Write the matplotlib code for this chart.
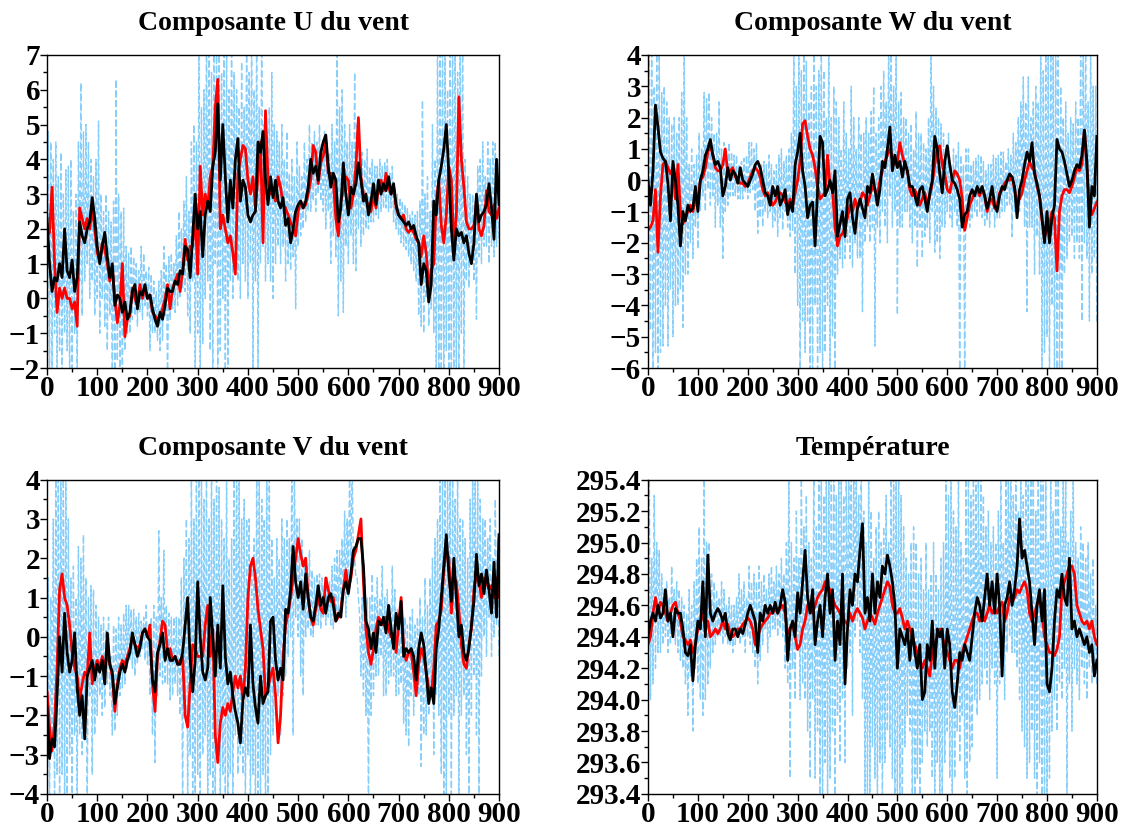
import numpy as np
import matplotlib
matplotlib.use("Agg")
import matplotlib.pyplot as plt
from matplotlib.ticker import MultipleLocator, FormatStrFormatter

# sample index (s): smoothed series read every 5 steps
t = np.arange(0, 901, 5)
# raw (noisy) series: low swings read at t, high swings read half-way between
t_mid = np.arange(2.5, 900, 5)

# --- Composante U du vent ---
u_raw_lo = [1.0, -2.5, -2.0, -1.0, -2.5, -1.5, -2.5, -1.0, -1.5, -2.5, -2.0, -1.0, -2.5,
            0.5, -0.5, 0.5, 1.0, 0.0, 0.5, -0.5, 0.0, -1.0, 0.0, -0.8, -1.5, -0.5, -2.5,
            -2.5, -1.8, -2.0, -2.5, -1.5, -1.0, -1.0,
            -0.6, -0.5, -0.8, -0.4, -0.6, -0.2, -0.5, -1.5, -1.0, -1.0, -1.2, -1.5, -1.2, -0.5, -2.5, -0.6,
            -0.3, -0.4, -0.2, 0.0, 0.3, 0.2, -0.5, -1.0,
            0.5, -2.5, -1.0, -2.5, -1.3, 0.0, 0.5, -1.5, -2.5, 1.0, -2.5, -1.5, 0.0, -2.5, -2.5, 0.5, 0.0,
            1.0, 0.5, 0.0, 1.0, 0.5, 0.0, 1.0, -2.5, 0.5, -2.5, 1.0, 1.5, 0.5, 1.0, 0.5, 0.0, 1.0,
            1.5, 1.0, 1.5, 0.5, 1.0, 0.8, 1.2, -0.3, 1.5, 1.8, 2.0, 2.2, 2.5, 2.5, 2.8, 2.5, 3.0, 2.8, 2.5, 2.0,
            2.5, 1.0, 1.8, 1.2,
            -0.5, 0.5, -0.4, 1.5, 1.0, 1.8, 1.0, 0.8, 2.0, 1.5, 1.8, 2.0,
            2.0, 2.2, 2.2, 2.4, 2.3, 2.5, 2.6, 2.6, 2.5, 2.6, 2.2, 2.0, 1.8, 1.6, 1.5, 1.4, 1.2, 1.0, 0.8, 0.5,
            -0.5, -0.8, -1.0, 0.0, -0.8, -0.3, -1.0, -2.5,
            -2.5, -2.5, -2.5, -1.5, -2.5, -2.5, -2.0, -2.5, -2.5, -1.0, -2.5,
            0.5, 0.3, 1.0, 0.5, -0.6, 1.2, 1.0, 1.5, 1.5, 1.0, 1.5, 1.2, 1.5, 1.7]
u_raw_hi = [4.8, 4.5, 4.0, 4.5, 3.5, 4.2, 3.0, 3.7, 3.8, 4.0, 2.5, 3.0, 4.5,
            6.2, 4.8, 5.0, 4.5, 4.0, 3.5, 4.0, 5.1, 3.0, 2.5, 3.0, 2.5, 2.2, 2.8,
            6.3, 3.0, 2.5, 2.6, 1.5, 1.3, 1.5,
            1.2, 1.0, 0.8, 1.5, 1.3, 0.8, 0.9, 0.7, 0.5, 0.2, 0.5, 0.8, 1.5, 1.0, 1.2, 1.3, 1.0, 1.8, 2.5, 2.0,
            2.8, 3.5, 2.5, 4.5,
            5.0, 4.5, 8.0, 5.5, 6.0, 8.0, 8.0, 6.5, 8.0, 7.0, 8.0, 6.5, 8.0, 7.5, 6.0, 8.0, 6.5, 6.0, 5.5, 6.8,
            5.5, 8.0, 6.5, 8.0, 6.0, 8.0, 5.5, 8.0, 5.0, 4.8, 5.5, 6.5, 5.0, 4.8,
            4.5, 5.0, 4.0, 4.8, 3.6, 4.0, 3.5, 4.5, 3.8, 3.5, 4.5, 4.0, 5.0, 4.5, 4.8, 4.5, 5.0, 4.4, 4.8, 4.5,
            4.2, 5.0, 4.5, 8.0,
            5.5, 6.0, 5.0, 4.5, 5.0, 4.5, 6.5, 5.0, 4.5, 4.2, 4.0, 4.3,
            3.8, 4.0, 3.8, 3.8, 4.0, 3.8, 3.9, 4.0, 3.6, 3.8, 3.2, 3.0, 2.9, 2.8, 2.7, 2.6, 2.4, 2.5, 2.4, 2.5,
            2.8, 5.7, 3.0, 3.5, 2.5, 5.0, 4.0, 8.0,
            8.0, 8.0, 8.0, 6.0, 8.0, 8.0, 8.0, 6.5, 8.0, 8.0, 4.0,
            3.5, 3.0, 3.0, 2.8, 3.8, 4.0, 4.5, 3.5, 4.5, 4.0, 4.5, 4.5, 4.0]
u_red = [1.8, 1.9, 3.2, 1.0, -0.4, 0.3, 0.0, 0.3, 0.0, 0.0, -0.3, -0.1, -0.8, 2.6, 2.3, 2.0, 2.3, 2.0, 2.6, 2.0,
         1.3, 1.1, 1.6, 1.4, 1.0, 0.5, 0.9, 0.0, -0.7, -0.2, 1.0, -1.1, -0.6, -0.5, 0.3, 0.0, -0.2, 0.4, 0.0, 0.3,
         0.0, 0.1, -0.4, -0.5, -0.6, -0.5, -0.3, 0.0, 0.4, -0.3, 0.3, 0.5, 0.7, 0.2, 0.8, 1.7, 1.1, 1.5, 1.5, 2.5,
         0.7, 3.8, 2.4, 3.0, 2.6, 3.5, 3.8, 5.5, 6.3, 2.0, 2.4, 2.0, 1.6, 1.8, 1.3, 0.7, 3.6, 4.0, 4.4, 4.3,
         3.4, 3.0, 3.5, 2.6, 3.5, 4.5, 1.6, 5.4, 3.4, 3.0, 3.1, 2.8, 3.5, 3.2, 2.7, 2.6, 2.4, 2.2, 2.0, 1.8,
         2.5, 2.8, 2.6, 2.7, 3.0, 3.4, 4.4, 4.2, 3.3, 3.9, 4.1, 4.5, 3.6, 3.6, 3.4, 2.3, 1.8, 2.8, 3.1, 3.5,
         3.4, 2.6, 3.0, 3.8, 5.2, 3.5, 3.0, 2.8, 2.7, 2.5, 3.0, 2.6, 3.2, 3.4, 3.1, 3.6, 3.2, 3.0, 3.2, 2.6,
         2.4, 2.3, 2.4, 2.0, 1.9, 2.0, 1.9, 1.7, 1.6, 1.2, 1.8, 1.3, 0.3, 0.8, 1.0, 2.8, 3.4, 2.1, 1.6, 2.4,
         3.8, 3.4, 1.5, 2.4, 5.8, 4.0, 3.2, 2.2, 2.0, 2.0, 2.1, 2.8, 2.0, 1.8, 2.1, 3.1, 2.5, 2.4, 2.7, 2.3, 2.6]
u_black = [2.3, 1.0, 0.2, 0.6, 0.5, 1.0, 0.6, 2.0, 0.8, 0.6, 1.1, 0.2, 0.6, 2.2, 1.8, 1.6, 2.0, 2.2, 2.9, 2.3,
           1.5, 1.0, 1.5, 1.9, 1.2, 0.6, 1.0, -0.2, 0.1, 0.0, -0.4, -0.1, -0.6, -0.4, 0.2, 0.4, -0.3, 0.2, 0.1, 0.4,
           0.0, 0.1, -0.3, -0.6, -0.8, -0.4, -0.6, -0.2, 0.3, 0.2, 0.2, 0.5, 0.4, 0.8, 0.7, 1.5, 1.4, 0.6, 1.8, 3.0,
           2.0, 2.5, 1.2, 2.4, 2.8, 2.5, 3.8, 4.2, 5.6, 3.4, 5.0, 3.5, 2.2, 3.4, 2.6, 4.0, 4.6, 2.8, 3.4, 3.2,
           2.4, 2.2, 2.4, 2.5, 4.5, 4.2, 4.8, 3.4, 2.7, 3.5, 2.9, 3.4, 2.8, 2.6, 2.9, 2.1, 2.3, 1.6, 2.0, 2.5,
           2.7, 2.8, 2.6, 2.8, 3.2, 4.0, 3.6, 3.8, 3.4, 4.2, 4.5, 4.7, 3.8, 3.2, 3.6, 3.4, 2.2, 2.6, 3.9, 3.0,
           2.4, 3.2, 3.0, 3.3, 3.9, 3.4, 2.8, 3.0, 2.4, 2.8, 3.3, 2.7, 3.4, 3.0, 3.3, 3.1, 3.5, 3.0, 3.3, 2.7,
           2.4, 2.3, 2.2, 2.1, 2.2, 2.0, 2.1, 1.8, 1.6, 0.4, 1.0, 0.8, -0.1, 0.4, 2.8, 2.4, 3.4, 3.8, 4.3, 5.0,
           3.6, 2.0, 1.1, 2.0, 1.8, 1.9, 1.6, 1.8, 1.3, 1.0, 1.6, 3.0, 2.2, 2.4, 2.5, 2.7, 3.3, 2.6, 1.7, 4.0, 2.7]

# --- Composante W du vent ---
w_raw_lo = [-2.0, -4.8, -6.5, -5.5, -6.5, -5.5, -5.3, -4.0, -5.3, -3.5, -5.0, -4.0, -4.0, -3.5, -4.7, -3.0, -3.0,
            -2.0, -2.5, -1.5, -2.2,
            -1.0, -0.5, -1.0, -0.3, -0.8, -0.5, -1.5, -0.8, -1.5, -2.5, -1.0, -0.8,
            -0.5, -0.5, -0.5, -0.6, -0.6, -0.6, -0.4, -0.6, -0.4, -0.3, -1.0, -1.7, -1.2, -1.5, -1.0, -1.2, -1.0,
            -1.5, -1.3, -1.8, -1.2, -1.6, -1.0, -1.5, -1.8, -1.6,
            -3.0, -4.0, -6.5, -4.5, -5.5, -4.5, -6.5, -6.5, -4.0, -6.5, -5.5, -6.5, -5.5, -4.0, -6.5, -5.0, -6.5,
            -3.0, -2.5, -2.8,
            -2.5, -2.0, -2.5, -2.8, -2.0, -2.5, -2.5, -4.2, -2.0, -1.5, -2.0, -1.5, -5.3, -1.5, -2.0, -1.0,
            -1.5, -2.0, -0.5, -1.5, -1.0, -4.3, -1.5, -1.5, -1.0, -1.0,
            -1.5, -2.0, -1.5, -2.8, -1.5, -2.5, -1.8, -1.5, -2.0, -1.0, -2.3, -2.0, -2.5, -1.5, -1.5, -1.0, -1.2,
            -1.5, -1.0, -1.5, -6.5, -1.5, -6.5, -1.0,
            -1.5, -1.2, -1.0, -1.2, -1.0, -1.2, -1.5, -1.3, -1.5, -1.0, -1.5, -1.2, -1.2, -1.0, -1.0, -0.8, -0.8,
            -1.8, -1.0, -0.8, -1.0, -0.5, -1.5,
            -4.2, -1.5, -1.5, -3.0, -1.8, -3.0, -6.5,
            -5.5, -5.0, -6.5, -4.0, -6.5, -6.5, -6.5, -6.5, -3.0,
            -2.5, -2.0, -1.8, -2.5, -2.0, -2.5, -4.5, -2.0, -2.5, -4.5, -3.0, -2.5, -4.6]
w_raw_hi = [4.5, 4.5, 3.0, 4.5, 4.5, 2.8, 3.0, 2.5, 2.0, 1.8, 2.0, 1.5, 2.0, 2.8, 4.5, 2.0,
            0.5, 1.0, 0.5, 0.8,
            1.5, 1.0, 2.8, 2.6, 2.8, 2.0, 1.5, 1.5, 2.5, 1.0, 1.2, 0.8, 1.2,
            0.9, 0.8, 0.8, 0.5, 0.6, 0.7, 0.8, 1.2, 1.2, 1.0, 1.2, 0.5, 0.5, 0.6, 0.5, 0.8, 0.5, 0.3, 0.5, 0.8,
            1.0, 0.6, 0.8, 1.0, 1.5, 4.5,
            3.0, 4.5, 3.5, 4.5, 3.8, 2.5, 3.0, 4.5, 3.0, 3.5, 4.5, 3.5, 2.0, 4.5, 2.0, 3.0, 2.5, 2.0, 1.0,
            2.5, 1.5, 1.0, 3.0, 2.0, 1.0, 2.0, 1.5, 1.5, 2.0, 1.5, 2.2, 3.0, 1.5, 2.0, 3.0,
            3.5, 2.5, 4.5, 4.5, 3.0, 4.0, 2.5, 2.8, 2.0, 2.0,
            1.5, 1.8, 1.0, 2.2, 1.5, 1.5, 1.2, 1.0, 2.0, 4.5, 3.0, 2.3, 2.0, 1.8, 1.5, 1.0, 1.5, 0.5, 1.0, 0.8,
            1.2, 0.8, 0.5, 1.0,
            1.0, 0.5, 0.6, 0.7, 0.8, 0.8, 0.6, 0.3, 0.5, 0.5, 0.8, 0.7, 0.8, 0.9, 0.9, 0.6, 1.0, 0.8, 1.5, 1.2,
            2.0, 2.5, 3.3,
            2.5, 3.3, 2.0, 2.5, 3.0, 2.5, 4.5,
            3.5, 4.5, 4.5, 4.5, 4.5, 4.5, 4.5, 3.0, 2.0,
            2.5, 1.5, 2.0, 1.8, 2.5, 2.0, 4.5, 4.0, 4.5, 2.5, 4.5, 3.0, 3.0]
w_red = [-1.6, -1.5, -1.3, -0.3, -2.3, -0.5, 0.5, 0.6, 0.4, 0.2, 0.4, -0.6, 0.5, -1.0, -1.4, -1.2, -1.0, -0.8, -1.0, -0.6,
         -0.6, 0.0, 0.1, 0.4, 0.9, 1.1, 0.8, 0.4, 0.3, 0.3, 0.5, 1.0, 0.2, 0.3, 0.4, 0.1, 0.0, -0.1, -0.1, -0.2,
         -0.1, 0.1, 0.3, 0.4, 0.3, 0.1, -0.3, -0.5, -0.4, -0.6, -0.8, -0.7, -0.5, -0.4, -0.5, -0.7, -0.8, -0.6, -0.8, -0.4,
         0.0, 0.6, 1.8, 1.9, 1.4, 1.0, 0.8, 0.4, -0.2, -0.6, -0.5, -0.4, 0.8, -0.2, -0.3, -1.5, -2.1, -1.8, -1.7, -1.5,
         -1.2, -0.8, -1.0, -0.6, -0.9, -0.7, -0.4, -0.5, -0.8, -0.5, -0.2, -0.3, -0.5, 0.0, 0.3, 0.6, 0.8, 1.0, 0.7, 0.5,
         0.6, 1.2, 0.8, 0.5, 0.3, -0.3, -0.5, -0.3, -0.5, -0.8, -0.6, -0.4, -0.8, -0.5, -0.1, 0.5, 1.0, 1.1, 0.5, 0.2,
         -0.3, -0.4, 0.0, 0.3, 0.2, 0.0, -0.6, -1.6, -1.2, -0.8, -0.6, -0.4, -0.3, -0.5, -0.3, -0.5, -1.0, -0.7, -0.6, -0.9,
         -0.8, -0.4, -0.3, -0.1, 0.0, 0.0, 0.1, -0.3, -0.7, -0.6, -0.4, 0.0, 0.3, 0.6, 0.4, 0.3, -0.2, -0.5, -1.3, -1.8,
         -1.6, -1.4, -1.0, -1.2, -2.9, -1.0, -0.5, -0.3, -0.3, -0.4, -0.2, 0.1, 0.4, 0.3, 0.5, 1.6, 0.4, -0.8, -1.1, -0.9, -0.7]
w_black = [0.0, -0.8, 0.3, 2.4, 1.7, 0.9, 0.7, 0.6, -0.1, -1.3, 0.6, 0.0, -0.8, -2.1, -1.0, -1.3, -0.8, -1.0, -0.9, -0.2,
           -1.0, 0.0, 0.3, 0.8, 1.0, 1.3, 0.8, 0.5, 0.6, 0.4, -0.5, -0.2, 0.4, 0.0, 0.3, 0.2, -0.1, 0.4, 0.0, -0.1,
           -0.2, 0.0, 0.2, 0.5, 0.6, 0.4, 0.0, -0.4, -0.5, -0.8, -0.2, -0.5, -0.2, -0.8, -0.6, -0.3, -1.1, -0.7, -1.0, 0.5,
           0.9, 1.5, 0.3, -0.2, -1.2, -0.8, -0.7, -2.1, -0.3, 1.4, 1.2, -0.5, -0.3, 0.0, -0.4, 0.3, -1.8, -1.4, -1.0, -1.8,
           -0.6, -0.4, -1.2, -1.7, -0.9, -0.6, -0.9, -1.2, -0.2, -0.4, 0.2, -0.3, -0.8, -0.3, 0.6, 0.4, 1.0, 1.7, 0.3, 0.8,
           0.4, 0.6, 0.1, 0.6, 0.3, -0.2, -0.2, -0.5, -0.8, -0.3, -0.2, -0.6, -1.0, -0.4, 0.0, 1.4, 1.0, 0.2, -0.4, 0.6,
           1.1, 0.5, 0.0, -0.1, -0.3, -0.6, -1.5, -1.1, -1.0, -0.5, -0.3, -0.5, -0.2, -0.4, -0.2, -0.5, -0.9, -0.6, -0.2, -0.8,
           -1.0, -0.5, -0.2, -0.3, 0.0, 0.2, 0.1, -0.2, -1.2, -0.3, 0.0, 0.5, 0.9, 0.6, 1.2, 0.2, -0.1, -0.5, -1.2, -2.0,
           -1.0, -2.0, -1.2, -0.8, 1.3, 1.0, 0.9, 0.6, 0.2, -0.2, 0.0, 0.3, 0.5, 0.4, 0.8, 1.6, 0.6, -1.5, -0.2, -0.5, 1.4]

# --- Composante V du vent ---
v_raw_lo = [-4.5, -4.5, -3.0, -4.5, -3.5, -4.5, -3.5, -4.5, -4.5, -3.0, -4.5,
            -2.5, -4.5, -2.5, -3.0, -2.5, -4.5,
            -1.5, -3.5, -2.5, -2.0, -1.5, -2.0, -1.8, -1.2, -1.5, -2.5,
            -2.4, -2.0, -1.5, -1.3, -1.2, -0.8, -0.6, -0.8, -1.0, -0.7, -0.5, -0.3, -0.6, -0.7, -1.5, -2.5,
            -3.2, -1.5, -1.0, -1.2, -1.2, -1.2, -1.6, -1.5, -1.2, -1.5, -2.0, -4.5,
            -2.0, -4.5, -3.0, -4.5, -4.0, -3.5, -4.5, -3.0, -2.5, -4.5, -3.5, -4.0, -4.5, -3.0, -4.5, -3.5, -4.5,
            -4.5, -3.5, -4.5, -2.5, -3.5, -3.0, -3.5, -4.5, -3.0, -4.5, -3.5, -4.5, -4.0, -4.5, -3.5, -4.5, -4.5,
            -3.0, -2.5, -2.0, -1.5, -2.5, -1.5,
            -1.0, -0.5, 0.0, -2.5, 0.5, 0.0, -1.0, -1.5, 0.0, 0.2, 0.0, 0.0, 0.3, 0.3, 0.2, 0.5, 0.3, 0.5, 0.3,
            0.2, 0.5, 0.6, 0.8, 1.0, 0.5, 1.0, 1.5, 1.8, 1.5, 1.0, -1.0, -1.5, -2.0,
            -4.5, -2.0, -1.5, -1.0, -1.0, -0.5, -1.5, -1.5, -1.2, -1.0, -1.0, -1.5, -1.5, -1.2, -2.2, -2.5, -2.8,
            -1.5, -2.0, -1.5, -1.5, -3.3, -2.5, -2.5, -2.0, -1.5, -3.0, -1.5, -2.0,
            -3.5, -4.5, -4.5, -2.0, -4.5, -2.0, -1.5, -4.5, -2.0, -1.5, -3.0, -4.5, -2.0, -1.0, -2.5, -4.5, -1.0,
            0.0, -0.5, 0.5, -0.5, 0.0, 0.3, -0.5]
v_raw_hi = [1.5, 1.0, 3.0, 4.5, 4.5, 4.5, 4.5, 4.5, 3.0, 1.5,
            1.8, 1.0, 2.3, 2.0, 2.6, 1.5,
            1.0, 1.3, 1.2, 0.8, 0.5, 0.3, 0.5, 0.2, 0.5, -0.5, 0.3,
            0.2, 0.5, 0.3, 0.6, 0.8, 0.8, 0.7, 0.7, 0.5, 0.6, 0.4, 0.5, 0.8, 0.3, 0.5, 0.8,
            0.5, 2.7, 1.0, 2.2, 0.8, 0.6, 0.5, 0.5, 0.5, 0.5, 1.5, 2.0,
            3.0, 2.5, 4.5, 3.0, 4.5, 4.5, 4.5, 3.5, 4.5, 3.0, 4.5, 3.5, 4.5, 3.8, 3.0, 2.5, 4.5, 2.0, 2.5, 4.5,
            4.5, 4.5, 3.0, 3.5, 3.0, 3.0, 2.0, 2.5, 4.5, 4.5, 3.5, 3.0, 4.5, 4.5, 2.5, 1.5, 2.5, 2.0, 3.0, 2.5,
            3.0, 2.5, 4.5, 4.5, 3.0, 3.0, 2.5, 2.0, 1.8, 2.2, 1.7, 1.5, 1.6, 1.6, 1.5, 1.3, 1.5, 1.4, 1.8, 2.0,
            2.2, 2.2, 2.5, 3.2, 3.0, 4.5, 4.5, 2.0, 1.5, 0.5, 1.0, 1.5, 1.0,
            1.0, 1.6, 1.0, 1.5, 1.0, 1.8, 1.0, 1.2, 0.8, 1.8, 1.2, 0.7, 0.5, 0.8, 0.5, 0.3, 0.5, 0.7, 0.3, 0.5,
            1.0, 0.5, 1.5, 0.8, 1.5, 2.0, 2.5, 3.0, 4.0,
            4.5, 4.5, 4.5, 4.5, 4.5, 3.5, 4.5, 3.0, 3.0, 2.5, 2.0, 3.5, 4.5, 4.5, 4.0, 3.5, 3.0, 3.0, 2.5, 3.0,
            2.0, 3.5, 2.5]
v_red = [-1.4, -2.3, -2.9, -2.2, -0.8, 1.2, 1.6, 1.0, 0.8, 0.3, -0.4, -0.8, -1.0, -1.6, -1.2, -0.9, -1.0, 0.1, -1.2, -0.8,
         -0.6, -0.8, -0.5, -0.7, -0.5, -0.7, -1.0, -1.9, -1.2, -0.8, -0.6, -0.7, -0.5, -0.3, 0.0, -0.2, -0.3, -0.2, 0.1, 0.2,
         0.0, 0.3, -1.2, -1.9, -0.5, -0.1, 0.4, 0.3, -0.4, -0.3, -0.6, -0.5, -0.7, -0.6, -0.5, -2.0, -2.3, -1.2, -0.2, -0.3,
         -0.5, -0.5, -0.5, 0.3, 0.8, -0.5, 0.2, -2.5, -3.2, -2.2, -1.8, -2.0, -1.7, -1.9, -1.4, -1.0, -1.3, -1.0, -1.6, -0.8,
         1.0, 1.8, 2.0, 1.5, 0.7, 0.2, -0.3, -1.5, -1.3, -1.0, -0.8, -1.5, -2.7, -2.0, -0.5, 0.3, 0.6, 1.0, 1.5, 2.0,
         2.5, 2.1, 1.8, 2.0, 1.0, 0.5, 0.3, 0.7, 1.0, 0.7, 0.6, 1.5, 1.2, 0.9, 1.0, 0.4, 0.5, 0.7, 1.2, 1.7,
         1.2, 1.5, 2.0, 2.2, 2.6, 3.0, 1.4, 0.2, -0.4, -0.7, -0.3, 0.2, 0.5, 0.4, 0.3, 0.5, 0.2, 0.0, 0.1, -0.4,
         0.3, 1.0, -0.3, -0.6, -0.4, -0.4, -0.9, -1.5, -0.7, -0.3, -0.5, -0.9, -1.3, -1.5, -0.8, 0.3, 0.4, 0.7, 1.7, 2.2,
         2.0, 0.6, 1.5, 1.4, 0.7, -0.2, -0.7, -0.8, -0.2, 0.2, 1.2, 1.6, 1.4, 1.0, 1.5, 1.4, 1.2, 1.3, 1.0, 1.5, 1.0]
v_black = [-1.8, -3.1, -2.6, -2.8, -1.5, 0.0, -0.9, 0.6, -0.4, -0.9, -0.6, 0.1, -1.3, -2.0, -1.5, -2.6, -1.0, -0.8, -0.6, -1.1,
           -0.7, -0.9, -0.6, -1.2, 0.1, -0.7, -0.9, -1.7, -1.3, -0.9, -0.7, -0.9, -0.6, -0.4, 0.1, -0.2, -0.5, -0.3, 0.1, 0.2,
           0.0, -0.1, -1.1, -1.4, -0.4, -0.2, 0.1, -0.6, -0.3, -0.6, -0.6, -0.5, -0.7, -0.7, -0.4, 0.3, 1.0, -0.6, -1.4, -0.6,
           1.4, 0.0, -0.9, -1.1, -0.8, 1.0, 0.0, -1.0, 0.3, -0.8, 1.3, -0.5, -1.2, -0.9, -1.5, -1.9, -2.2, -2.7, -1.6, -1.3,
           -1.5, 0.3, -1.2, -1.8, -2.2, -1.0, -1.7, -1.5, -1.4, 0.4, 0.5, -0.6, -1.1, -0.8, -1.1, 0.7, 0.6, 1.2, 2.3, 1.4,
           1.0, 1.4, 0.7, 1.6, 1.0, 0.5, 0.4, 0.8, 1.3, 0.8, 1.0, 0.6, 1.0, 1.1, 0.8, 0.4, 0.6, 0.5, 1.2, 1.4,
           1.1, 1.6, 2.2, 2.3, 2.5, 2.5, 1.8, 0.4, 0.2, -0.3, 0.1, -0.4, 0.4, 0.3, 0.5, 0.1, 0.8, 0.2, -0.3, 0.6,
           0.2, 0.9, -0.5, -0.3, -0.4, -0.3, -0.5, -1.1, -0.3, 0.1, -0.2, -0.9, -1.7, -1.3, -1.7, -0.3, 0.2, 1.0, 1.8, 2.6,
           1.6, 0.9, 2.0, 1.0, 0.0, 0.3, -0.4, -0.6, -0.3, 0.3, 0.9, 2.1, 1.3, 1.6, 1.1, 1.7, 1.2, 0.6, 1.9, 0.5, 2.6]

# --- Température ---
temp_raw_lo = [294.3, 294.0, 294.1, 294.2, 294.3,
               294.3, 294.35, 294.4, 294.3, 294.35, 294.4, 294.35, 294.3, 294.25, 294.2, 294.1, 293.9, 294.15, 293.8,
               294.2, 294.1,
               294.0, 293.9, 294.0, 294.1, 294.2, 294.3,
               294.35, 294.4, 294.4, 294.35, 294.4, 294.35, 294.35, 294.3, 294.35, 294.4, 294.35, 294.4, 294.3, 294.4,
               294.35, 294.3, 294.2, 294.1, 294.25, 294.35, 294.45, 294.3, 294.4, 294.45, 294.45, 294.4, 294.45, 294.4,
               294.2,
               294.1, 293.5, 294.2, 294.0, 294.3, 294.0, 294.1, 294.0, 293.8, 293.5, 294.0, 293.5, 293.8, 293.3, 293.3,
               293.6, 293.3, 293.5, 293.8, 293.3, 293.9, 293.6, 294.0, 293.6, 294.2, 294.3, 293.9, 294.4, 294.5, 294.3,
               294.0, 293.3, 293.3, 293.3, 293.7, 293.5, 293.3, 293.6, 293.3, 293.6, 293.8, 293.7, 293.5, 293.3, 293.3,
               293.3, 293.3, 293.7, 293.9, 293.8, 293.3, 293.3, 293.5, 293.3, 293.6, 293.8, 293.7, 293.8, 293.5, 293.3,
               293.6, 293.3, 293.4, 293.6, 293.8, 293.5, 293.3, 293.5, 293.8, 293.6, 293.9, 293.5, 293.4, 293.6, 293.7,
               294.0, 293.9,
               294.0, 294.1, 294.2, 294.1, 294.0, 294.2, 294.1, 293.5,
               294.1, 294.2, 294.0, 294.3, 294.4, 294.3, 294.3, 294.2, 294.0, 293.8, 293.7, 293.5, 293.6, 293.8, 293.5,
               293.3, 293.6, 293.3, 293.3, 293.3, 293.5, 293.8, 294.0, 293.8, 294.1, 294.0, 294.2, 293.3, 294.1, 293.8,
               294.2, 294.1, 294.0, 294.2, 294.1, 294.0, 294.2, 294.1, 294.2, 294.1]
temp_raw_hi = [295.5, 294.9, 295.3, 295.0,
               294.95, 294.8, 294.7, 294.75, 294.65, 294.85, 294.7, 294.75, 294.7, 294.65, 294.6, 294.55, 294.7, 294.6,
               294.75, 294.9,
               295.1, 294.9, 295.5, 295.0, 295.0, 294.8, 294.75,
               294.7, 294.65, 294.75, 294.7, 294.6, 294.65, 294.6, 294.6, 294.65, 294.8, 294.7, 294.75, 294.65, 294.85,
               294.75, 294.8, 294.75, 294.85, 294.75, 294.8, 294.7, 294.8, 294.85, 294.75, 294.85, 294.8, 294.9, 294.8,
               295.0,
               295.5, 295.0, 294.9, 295.2, 294.9, 295.5, 295.1, 295.3, 295.0, 294.9, 295.5, 295.1, 295.5, 295.5, 295.3,
               295.5, 295.5, 295.5, 295.5, 295.3, 295.5, 295.5, 295.3, 295.5, 295.5, 295.5, 295.5, 295.5, 295.3, 295.5,
               295.2, 295.0, 295.5, 295.2, 294.9, 295.1, 295.2, 295.0, 295.1, 295.3, 295.0, 295.5, 295.5, 295.5, 295.5,
               295.3, 295.1, 294.9, 294.8, 295.0, 295.1, 295.0, 294.8, 294.9, 294.7, 295.0, 294.7, 294.8, 295.0, 294.8,
               294.7, 294.9, 295.0, 295.5, 295.3, 295.5, 295.2, 295.1, 295.5, 295.0, 294.9, 295.5, 295.5, 295.3, 295.5,
               295.5, 295.4,
               295.5, 295.3, 295.1, 295.2, 295.0, 295.1, 295.0, 295.2,
               295.5, 295.0, 295.5, 295.5, 295.5, 295.3, 295.5, 295.2, 295.5, 295.3, 295.5, 295.5, 295.5, 295.5, 295.2,
               295.5, 295.5, 295.5, 295.5, 295.0, 295.5, 295.2, 295.5, 295.5, 295.1, 295.5, 295.5, 295.0, 295.2, 295.5,
               295.0, 294.9, 295.1, 295.0, 294.9, 295.0, 294.8, 294.9, 294.6]
temp_red = [294.35, 294.40, 294.55, 294.65, 294.55, 294.62, 294.60, 294.55, 294.50, 294.55, 294.60, 294.62, 294.55, 294.50, 294.40, 294.38, 294.35, 294.38, 294.30, 294.35,
            294.45, 294.50, 294.55, 294.45, 294.50, 294.40, 294.42, 294.45, 294.42, 294.45, 294.50, 294.45, 294.48, 294.42, 294.40, 294.42, 294.45, 294.45, 294.48, 294.50,
            294.52, 294.50, 294.45, 294.35, 294.40, 294.45, 294.48, 294.50, 294.52, 294.55, 294.55, 294.58, 294.55, 294.58, 294.60, 294.55, 294.42, 294.45, 294.48, 294.40,
            294.32, 294.35, 294.45, 294.50, 294.60, 294.58, 294.55, 294.60, 294.65, 294.68, 294.70, 294.75, 294.72, 294.70, 294.65, 294.60, 294.58, 294.55, 294.52, 294.50,
            294.48, 294.55, 294.50, 294.55, 294.58, 294.55, 294.52, 294.45, 294.50, 294.55, 294.52, 294.48, 294.55, 294.60, 294.65, 294.70, 294.75, 294.72, 294.60, 294.55,
            294.55, 294.58, 294.52, 294.45, 294.50, 294.45, 294.40, 294.35, 294.30, 294.25, 294.20, 294.25, 294.20, 294.15, 294.30, 294.35, 294.40, 294.45, 294.40, 294.35,
            294.30, 294.25, 294.20, 294.25, 294.25, 294.20, 294.30, 294.35, 294.40, 294.45, 294.50, 294.55, 294.55, 294.50, 294.55, 294.50, 294.55, 294.60, 294.55, 294.58,
            294.55, 294.60, 294.62, 294.50, 294.55, 294.65, 294.62, 294.65, 294.70, 294.68, 294.72, 294.75, 294.70, 294.55, 294.50, 294.55, 294.60, 294.65, 294.55, 294.40,
            294.35, 294.30, 294.30, 294.28, 294.32, 294.40, 294.70, 294.75, 294.80, 294.85, 294.85, 294.80, 294.60, 294.55, 294.50, 294.48, 294.50, 294.45, 294.50, 294.40, 294.35]
temp_black = [294.40, 294.50, 294.55, 294.50, 294.60, 294.52, 294.55, 294.70, 294.50, 294.55, 294.40, 294.58, 294.55, 294.55, 294.45, 294.30, 294.28, 294.35, 294.12, 294.35,
              294.50, 294.45, 294.75, 294.40, 294.92, 294.55, 294.50, 294.55, 294.58, 294.55, 294.50, 294.55, 294.42, 294.38, 294.45, 294.45, 294.40, 294.45, 294.42, 294.48,
              294.55, 294.60, 294.55, 294.50, 294.30, 294.55, 294.50, 294.60, 294.55, 294.60, 294.55, 294.62, 294.55, 294.60, 294.70, 294.62, 294.25, 294.45, 294.50, 294.40,
              294.68, 294.55, 294.75, 294.95, 294.65, 294.55, 294.70, 294.35, 294.50, 294.60, 294.40, 294.65, 294.80, 294.55, 294.70, 294.25, 294.50, 294.35, 294.80, 294.10,
              294.45, 294.70, 294.60, 294.80, 294.75, 294.95, 295.12, 294.55, 294.65, 294.50, 294.80, 294.55, 294.75, 294.65, 294.85, 294.80, 294.92, 294.85, 294.75, 294.60,
              294.20, 294.45, 294.40, 294.35, 294.45, 294.25, 294.45, 294.30, 294.20, 294.35, 294.00, 294.05, 294.35, 294.25, 294.50, 294.20, 294.45, 294.40, 294.45, 294.20,
              294.45, 294.35, 294.05, 293.95, 294.10, 294.30, 294.25, 294.35, 294.30, 294.25, 294.40, 294.55, 294.65, 294.60, 294.50, 294.65, 294.80, 294.60, 294.75, 294.55,
              294.80, 294.60, 294.15, 294.60, 294.65, 294.75, 294.60, 294.70, 294.85, 295.15, 294.90, 294.95, 294.85, 294.75, 294.55, 294.35, 294.60, 294.70, 294.50, 294.70,
              294.10, 294.05, 294.20, 294.50, 294.70, 294.65, 294.80, 294.65, 294.60, 294.90, 294.45, 294.50, 294.40, 294.45, 294.40, 294.35, 294.40, 294.30, 294.35, 294.15, 294.25]

TITLES = ["Composante U du vent", "Composante W du vent", "Composante V du vent", "Température"]
YLIMS = [(-2, 7), (-6, 4), (-4, 4), (293.4, 295.4)]
YMAJOR = [1, 1, 1, 0.2]
YMINOR = [0.5, 0.5, 0.5, 0.1]
SERIES = [(u_raw_lo, u_raw_hi, u_red, u_black),
          (w_raw_lo, w_raw_hi, w_red, w_black),
          (v_raw_lo, v_raw_hi, v_red, v_black),
          (temp_raw_lo, temp_raw_hi, temp_red, temp_black)]


def interleave(lo, hi):
    """Merge the low swings (at t) and high swings (at t_mid) into one trace."""
    x = np.empty(len(t) + len(t_mid))
    y = np.empty_like(x)
    x[0::2], x[1::2] = t, t_mid
    y[0::2], y[1::2] = lo, hi
    return x, y


plt.rcParams.update({
    "font.family": "Liberation Serif",
    "font.weight": "bold",
})

fig = plt.figure(figsize=(11.25, 8.27), dpi=100)
# [left, bottom, width, height] in figure fraction, 2x2 layout
boxes = [
    (0.0418, 0.555, 0.4018, 0.3785),
    (0.5760, 0.555, 0.3990, 0.3785),
    (0.0418, 0.0400, 0.4018, 0.3800),
    (0.5760, 0.0400, 0.3990, 0.3800),
]

for i, box in enumerate(boxes):
    ax = fig.add_axes(box)
    lo, hi, red, black = SERIES[i]
    xr, yr = interleave(lo, hi)
    ax.plot(xr, yr, color="#87cefa", lw=1.0, ls=(0, (5, 2)), zorder=1)
    ax.plot(t, red, color="#ff0000", lw=2.0, zorder=2)
    ax.plot(t, black, color="black", lw=2.0, zorder=3)

    ax.set_xlim(0, 900)
    ax.set_ylim(*YLIMS[i])
    ax.xaxis.set_major_locator(MultipleLocator(100))
    ax.xaxis.set_minor_locator(MultipleLocator(50))
    ax.yaxis.set_major_locator(MultipleLocator(YMAJOR[i]))
    ax.yaxis.set_minor_locator(MultipleLocator(YMINOR[i]))
    if i == 3:
        ax.yaxis.set_major_formatter(FormatStrFormatter("%.1f"))
    ax.tick_params(which="major", direction="out", length=5, width=1.0,
                   labelsize=21, pad=0)
    ax.tick_params(which="minor", direction="out", length=3, width=1.0)
    for lab in ax.get_xticklabels() + ax.get_yticklabels():
        lab.set_fontweight("bold")
    for sp in ax.spines.values():
        sp.set_linewidth(1.0)
    ax.set_title(TITLES[i], fontsize=20, fontweight="bold", pad=18)

fig.savefig("out.png", dpi=100)
